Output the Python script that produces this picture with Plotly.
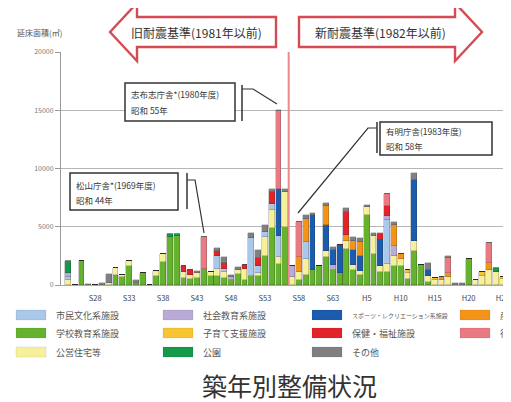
import plotly.graph_objects as go

# ---------------- data (years 1949 .. 2014) ----------------
years = list(range(1949, 2015))

school = [0, 0, 2050, 0, 0, 0, 0, 900, 650, 1650,
          150, 1000, 0, 800, 1950, 4100, 4200, 600, 500, 600,
          1350, 800, 800, 600, 450, 950, 450, 750, 750, 2450,
          4900, 1800, 4950, 0, 400, 900, 1250, 1650, 2400, 1300,
          1050, 3100, 1300, 900, 6000, 2700, 1100, 1100, 1600, 1600,
          500, 2900, 1700, 300, 0, 0, 0, 0, 0, 2200,
          0, 0, 0, 0, 0, 0]
housing = [400, 0, 0, 0, 0, 0, 150, 600, 200, 400,
           0, 0, 0, 400, 700, 0, 0, 500, 400, 400,
           0, 300, 600, 500, 0, 300, 900, 0, 300, 1700,
           1550, 600, 3000, 700, 700, 1300, 0, 0, 500, 0,
           0, 700, 400, 300, 700, 1500, 500, 700, 850, 600,
           500, 900, 0, 500, 400, 400, 700, 0, 0, 0,
           450, 800, 1300, 1100, 500, 500]
childcare = [0, 0, 0, 0, 0, 0, 0, 0, 0, 0,
             0, 0, 0, 0, 0, 0, 0, 0, 0, 0,
             0, 0, 0, 0, 0, 0, 0, 0, 0, 0,
             0, 0, 0, 0, 0, 0, 0, 0, 0, 0,
             0, 0, 0, 0, 0, 0, 0, 0, 0, 0,
             300, 0, 0, 0, 200, 0, 0, 0, 0, 0,
             0, 300, 0, 0, 200, 200]
culture = [300, 0, 0, 0, 0, 0, 0, 0, 0, 0,
           0, 0, 0, 0, 0, 0, 0, 0, 0, 0,
           0, 0, 1100, 300, 0, 0, 0, 3300, 600, 400,
           500, 1800, 0, 0, 0, 1450, 0, 0, 0, 0,
           0, 0, 0, 0, 0, 0, 0, 3800, 0, 0,
           0, 0, 0, 0, 0, 0, 0, 0, 0, 0,
           0, 0, 0, 0, 0, 0]
social = [300, 0, 0, 0, 0, 0, 0, 0, 0, 0,
          0, 0, 0, 0, 0, 0, 0, 0, 0, 0,
          0, 0, 0, 0, 200, 0, 0, 0, 0, 0,
          0, 0, 0, 900, 0, 0, 0, 0, 0, 400,
          0, 0, 0, 0, 0, 0, 0, 300, 900, 0,
          0, 0, 0, 0, 0, 0, 0, 0, 0, 0,
          0, 0, 0, 0, 0, 0]
sports = [0, 0, 0, 0, 0, 0, 0, 0, 0, 0,
          0, 0, 0, 0, 0, 0, 0, 0, 0, 0,
          0, 0, 0, 0, 0, 0, 0, 0, 0, 0,
          0, 4000, 0, 0, 0, 0, 4800, 0, 2250, 1300,
          2400, 0, 1300, 1300, 0, 0, 2300, 0, 0, 0,
          0, 5200, 0, 500, 0, 0, 0, 0, 0, 0,
          0, 0, 0, 0, 0, 0]
industry = [0, 0, 0, 0, 0, 0, 0, 0, 0, 0,
            0, 0, 0, 0, 0, 0, 0, 0, 0, 0,
            0, 0, 0, 0, 0, 0, 0, 0, 0, 0,
            0, 0, 0, 0, 1300, 2000, 0, 0, 1600, 0,
            0, 500, 800, 1200, 0, 0, 0, 0, 1800, 500,
            0, 0, 0, 0, 0, 300, 300, 0, 0, 0,
            0, 0, 600, 0, 0, 0]
health = [0, 0, 0, 0, 0, 0, 0, 0, 0, 0,
          0, 0, 0, 0, 0, 0, 0, 550, 400, 0,
          0, 0, 400, 500, 0, 0, 350, 0, 650, 0,
          1000, 0, 0, 0, 0, 0, 0, 0, 0, 0,
          0, 2000, 0, 0, 0, 0, 500, 850, 0, 0,
          0, 0, 0, 0, 0, 0, 0, 0, 0, 0,
          0, 0, 0, 0, 0, 0]
admin = [0, 0, 0, 0, 0, 0, 0, 0, 0, 0,
         0, 0, 0, 0, 0, 0, 0, 0, 0, 0,
         2750, 0, 0, 0, 0, 0, 0, 0, 0, 0,
         0, 6700, 0, 0, 3000, 0, 0, 0, 0, 0,
         0, 0, 0, 0, 0, 0, 0, 1100, 0, 0,
         0, 0, 0, 0, 0, 0, 1300, 0, 0, 0,
         0, 0, 1700, 0, 0, 0]
park = [1100, 0, 0, 0, 0, 0, 0, 0, 0, 0,
        0, 0, 0, 0, 0, 300, 200, 0, 0, 0,
        0, 0, 0, 0, 0, 0, 0, 0, 0, 0,
        0, 0, 0, 0, 0, 0, 0, 0, 0, 0,
        0, 0, 0, 0, 0, 0, 0, 0, 0, 0,
        0, 0, 0, 0, 0, 0, 0, 0, 0, 0,
        0, 0, 0, 350, 0, 0]
other = [0, 0, 0, 100, 0, 150, 800, 0, 0, 0,
         250, 0, 0, 0, 0, 0, 0, 0, 0, 200,
         0, 0, 300, 500, 200, 300, 0, 400, 700, 600,
         300, 100, 250, 0, 0, 350, 150, 0, 300, 300,
         0, 300, 300, 300, 200, 300, 100, 0, 250, 0,
         0, 600, 0, 600, 0, 0, 200, 200, 200, 0,
         0, 0, 0, 0, 0, 0]

tick_years = [1953, 1958, 1963, 1968, 1973, 1978, 1983, 1988, 1993, 1998, 2003, 2008, 2013]
tick_labels = ["S28", "S33", "S38", "S43", "S48", "S53", "S58", "S63",
               "H5", "H10", "H15", "H20", "H25"]
y_ticks = [0, 5000, 10000, 15000, 20000]
y_tick_labels = ["0", "5000", "10000", "15000", "20000"]

# name, values, colour (stack order bottom -> top)
series = [
    ("学校教育系施設", school, "#65b22e"),
    ("公営住宅等", housing, "#f7f09a"),
    ("子育て支援施設", childcare, "#f7c531"),
    ("市民文化系施設", culture, "#a9c8ea"),
    ("社会教育系施設", social, "#b9aad7"),
    ("スポーツ・レクリエーション系施設", sports, "#1c5cae"),
    ("産業系施設", industry, "#f39419"),
    ("保健・福祉施設", health, "#e2232a"),
    ("行政系施設", admin, "#e97a82"),
    ("公園", park, "#14994a"),
    ("その他", other, "#808080"),
]
colors = {n: c for n, _, c in series}

legend_grid = [
    ["市民文化系施設", "社会教育系施設", "スポーツ・レクリエーション系施設", "産業系施設"],
    ["学校教育系施設", "子育て支援施設", "保健・福祉施設", "行政系施設"],
    ["公営住宅等", "公園", "その他"],
]

FONT = "Noto Sans CJK JP, Noto Sans, sans-serif"

# ---------------- geometry (reference pixel coords; page body adds 8px offset) ----------------
OFF = 8
W, H = 511 - OFF, 402 - OFF
L, R_EDGE, T, B = 61, 511, 52, 285      # plot area in reference pixels
PW, PH = R_EDGE - L, B - T


def pxx(x):
    return (x - L) / PW


def pxy(y):
    return (B - y) / PH


fig = go.Figure()
for name, vals, col in series:
    fig.add_trace(go.Bar(
        x=years, y=vals, name=name, width=0.86,
        marker=dict(color=col, line=dict(color="rgba(40,40,40,0.45)", width=0.5)),
        showlegend=False,
    ))

shapes = []
annots = []


def text(x, y, s, size, color="#333", xanchor="left"):
    annots.append(dict(x=pxx(x), y=pxy(y), xref="paper", yref="paper", text=s,
                       xanchor=xanchor, yanchor="middle", showarrow=False,
                       font=dict(size=size, color=color, family=FONT)))


# red boundary line (between 1981 and 1982)
shapes.append(dict(type="line", xref="x", yref="y", x0=1981.5, x1=1981.5, y0=0, y1=20000,
                   line=dict(color="#e98a8c", width=2)))


def path(pts, close=True):
    s = "M " + " L ".join(f"{pxx(a):.4f},{pxy(b):.4f}" for a, b in pts)
    return s + (" Z" if close else "")


left_arrow = [(110, 32), (137, 3), (137, 17), (276, 17), (276, 47), (137, 47), (137, 61)]
right_arrow = [(299, 17), (455, 17), (455, 3), (482, 32), (455, 61), (455, 47), (299, 47)]
for pts in (left_arrow, right_arrow):
    shapes.append(dict(type="path", xref="paper", yref="paper", path=path(pts),
                       fillcolor="white", line=dict(color="#d64a55", width=2.4), layer="above"))
text(196, 32, "旧耐震基準(1981年以前)", 12, xanchor="center")
text(380, 32, "新耐震基準(1982年以前)", 12, xanchor="center")

# callout boxes
boxes = [
    ((125, 83, 235, 121), "志布志庁舎*(1980年度)", "昭和 55年", (94, 110),
     [(242, 85), (242, 121)], [(242, 89), (253, 89), (277, 104)]),
    ((70, 173, 178, 210), "松山庁舎*(1969年度)", "昭和 44年", (185, 200),
     [(187, 173), (187, 209)], [(187, 180), (195, 180), (204, 233)]),
    ((380, 122, 492, 155), "有明庁舎(1983年度)", "昭和 58年", (131, 146),
     [(377, 122), (377, 153)], [(377, 128), (368, 128), (298, 213)]),
]
for (x0, y0, x1, y1), t1, t2, (ly1, ly2), vline, poly in boxes:
    shapes.append(dict(type="rect", xref="paper", yref="paper", x0=pxx(x0), x1=pxx(x1),
                       y0=pxy(y1), y1=pxy(y0), fillcolor="white",
                       line=dict(color="#333", width=1.5), layer="above"))
    shapes.append(dict(type="path", xref="paper", yref="paper", path=path(vline, False),
                       line=dict(color="#333", width=1.5), layer="above"))
    shapes.append(dict(type="path", xref="paper", yref="paper", path=path(poly, False),
                       line=dict(color="#333", width=1.2), layer="above"))
    text(x0 + 4, ly1, t1, 8.5)
    text(x0 + 4, ly2, t2, 8.5)

# y-axis title
text(15, 32, "延床面積(㎡)", 8, color="#555")

# custom legend
col_sw = [16, 163, 312, 460]
row_y = [315, 333, 352]
for r, row in enumerate(legend_grid):
    for c, name in enumerate(row):
        sx = col_sw[c]
        yy = row_y[r]
        shapes.append(dict(type="rect", xref="paper", yref="paper", x0=pxx(sx), x1=pxx(sx + 30),
                           y0=pxy(yy + 5), y1=pxy(yy - 5), fillcolor=colors[name],
                           line=dict(color="rgba(0,0,0,0.15)", width=0.5)))
        size = 6 if len(name) > 10 else 9
        text(sx + 38, yy, name, size, color="#555")

# title at bottom
text(289, 385, "築年別整備状況", 25, xanchor="center")

fig.update_layout(
    width=W, height=H, autosize=False,
    margin=dict(l=L - OFF, r=W - (R_EDGE - OFF), t=T - OFF, b=H - (B - OFF), pad=0),
    barmode="stack", bargap=0,
    plot_bgcolor="white", paper_bgcolor="white",
    font=dict(family=FONT),
    shapes=shapes, annotations=annots,
    xaxis=dict(range=[1947.97, 2014.24], tickvals=tick_years, ticktext=tick_labels,
               showgrid=False, zeroline=False, showline=True, linecolor="#aaa", linewidth=1,
               ticks="", ticklabelstandoff=6,
               tickfont=dict(size=7.5, color="#444", family=FONT)),
    yaxis=dict(range=[0, 20000], tickvals=y_ticks, ticktext=y_tick_labels,
               showgrid=True, gridcolor="#b5b5b5", gridwidth=1, zeroline=False,
               showline=True, linecolor="#999", linewidth=1,
               ticks="outside", ticklen=5, tickcolor="#999",
               tickfont=dict(size=7, color="#777", family=FONT)),
)

fig.write_html("out.html")
